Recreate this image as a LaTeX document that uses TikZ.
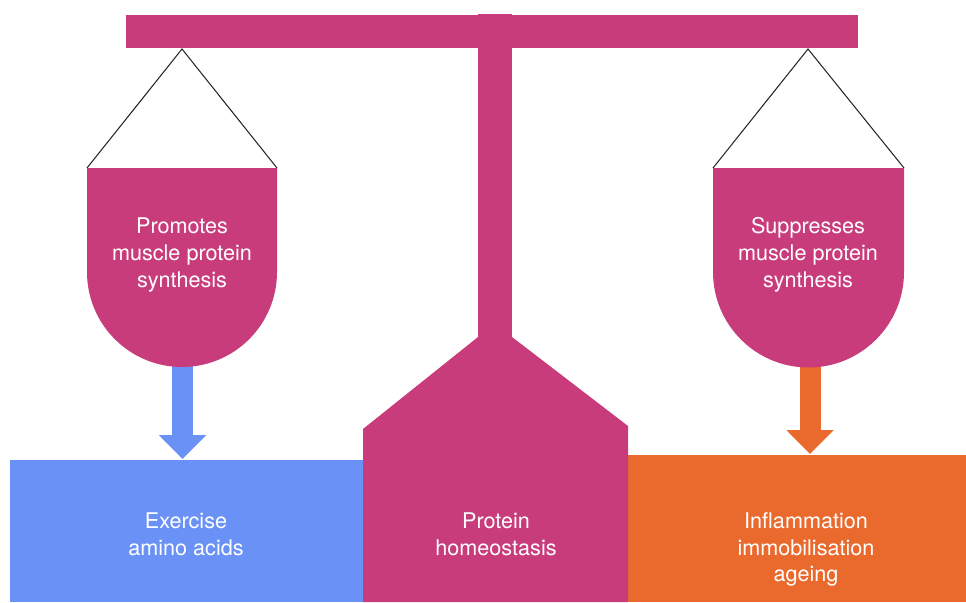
\documentclass[tikz,border=0pt]{standalone}
\usepackage{fontspec}
\setmainfont{TeX Gyre Heros}
\usetikzlibrary{arrows.meta}
\definecolor{scalepink}{RGB}{201,60,124}
\definecolor{exblue}{RGB}{106,145,245}
\definecolor{infl}{RGB}{234,106,46}
\tikzset{
  label/.style={text=white,align=center,font=\fontsize{12.3}{15.3}\selectfont},
  string/.style={black!85,line width=0.6pt},
  blockarrow/.style={line width=0.42cm,-{Triangle[length=0.48cm,width=0.92cm]}}
}

\begin{document}
\begin{tikzpicture}[x=0.02cm,y=0.02cm]
\useasboundingbox (0,0) rectangle (966,-602);
% boxes at the bottom
\fill[exblue] (10,-460) rectangle (363,-602);
\fill[infl] (628,-455) rectangle (966,-602);
% arrows out of the pans
\coordinate (lout) at (182.5,-360);
\coordinate (lin) at (182.5,-459);
\coordinate (rout) at (810,-360);
\coordinate (rin) at (810,-454);
\draw[blockarrow,exblue] (lout) -- (lin);
\draw[blockarrow,infl] (rout) -- (rin);
% the scale
\fill[scalepink] (126,-15) rectangle (858,-48);
\fill[scalepink] (478,-14) rectangle (512,-340);
\fill[scalepink] (363,-602) -- (363,-429) -- (478,-337) -- (512,-337) -- (628,-426) -- (628,-602) -- cycle;
% left pan
\coordinate (lhook) at (182,-49);
\coordinate (lpanl) at (87,-168);
\coordinate (lpanr) at (277,-168);
\draw[string] (lpanl) -- (lhook) -- (lpanr);
\fill[scalepink] (lpanl) -- (lpanr) -- (277,-272) arc (0:-180:95) -- cycle;
% right pan
\coordinate (rhook) at (808,-49);
\coordinate (rpanl) at (713,-168);
\coordinate (rpanr) at (904,-168);
\draw[string] (rpanl) -- (rhook) -- (rpanr);
\fill[scalepink] (rpanl) -- (rpanr) -- (904,-272) arc (0:-180:95.5) -- cycle;
% texts
\node[label] (promotes) at (182,-255) {Promotes\\muscle protein\\synthesis};
\node[label] (suppresses) at (808,-255) {Suppresses\\muscle protein\\synthesis};
\node[label] (exercise) at (186,-534.5) {Exercise\\amino acids};
\node[label] (homeo) at (496,-534.5) {Protein\\homeostasis};
\node[label] (inflam) at (806,-549.5) {Inflammation\\immobilisation\\ageing};
\end{tikzpicture}
\end{document}
